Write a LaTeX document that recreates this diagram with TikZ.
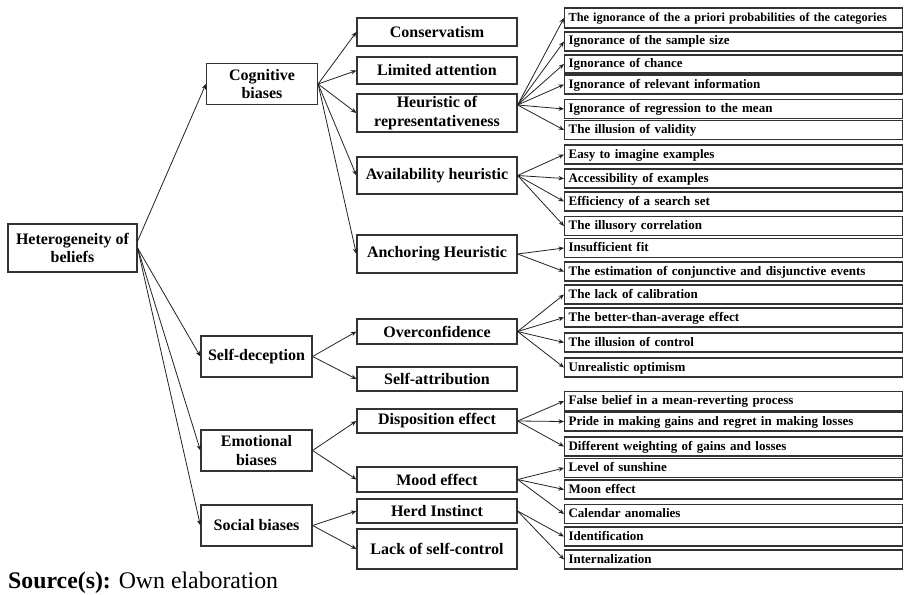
\documentclass[tikz,border=0pt]{standalone}
\usepackage{fontspec}
\setmainfont{Liberation Serif}
\usetikzlibrary{arrows.meta}

\definecolor{boxline}{HTML}{333333}
\definecolor{arrline}{HTML}{222222}

\begin{document}
\begin{tikzpicture}[
  x=1pt, y=-1pt,
  bx/.style={draw=boxline, line width=1.2pt, inner sep=2pt, align=center,
    font=\fontsize{16}{18.5}\selectfont\bfseries},
  top/.style={bx, minimum width=129pt, minimum height=48pt},
  grp/.style={bx, minimum width=111pt, minimum height=41pt},
  sub/.style={bx, minimum width=160pt},
  leaf/.style={draw=boxline, line width=1.2pt, anchor=west, inner xsep=4pt, inner ysep=1pt,
    text width=330pt, align=left, minimum height=19pt, text height=9pt, text depth=2pt,
    font=\fontsize{13}{15}\selectfont\bfseries},
  arr/.style={draw=arrline, line width=0.8pt, -{Stealth[length=5.5pt,width=4.5pt]}}
]
\useasboundingbox (0,0) rectangle (904,594);

% root and first level
\node[top] (root) at (72.5,248) {Heterogeneity of\\beliefs};
\node[grp] (cog) at (262,84) {Cognitive\\biases};
\node[grp] (selfd) at (256.5,356.5) {Self-deception};
\node[grp] (emo) at (256.5,450.5) {Emotional\\biases};
\node[grp] (soc) at (256.5,525.5) {Social biases};

% second level
\node[sub, minimum height=28pt] (cons) at (437,32) {Conservatism};
\node[sub, minimum height=27pt] (lim) at (437,70.5) {Limited attention};
\node[sub, minimum height=38pt] (heur) at (437,113) {Heuristic of\\representativeness};
\node[sub, minimum height=37pt] (avail) at (437,175.5) {Availability heuristic};
\node[sub, minimum height=38pt] (anch) at (437,254) {Anchoring Heuristic};
\node[sub, minimum height=25pt] (over) at (437,331.5) {Overconfidence};
\node[sub, minimum height=24pt] (attr) at (437,379) {Self-attribution};
\node[sub, minimum height=24pt] (disp) at (437,421) {Disposition effect};
\node[sub, minimum height=25pt] (mood) at (437,479.5) {Mood effect};
\node[sub, minimum height=24pt] (herd) at (437,511) {Herd Instinct};
\node[sub, minimum height=40pt] (lack) at (437,549) {Lack of self-control};

% leaves
\node[leaf, minimum height=20pt, font=\fontsize{12.3}{15}\selectfont\bfseries] (l1) at (564,18)
  {The ignorance of the a priori probabilities of the categories};
\node[leaf] (l2) at (564,41.5) {Ignorance of the sample size};
\node[leaf, minimum height=18pt] (l3) at (564,64) {Ignorance of chance};
\node[leaf] (l4) at (564,84.5) {Ignorance of relevant information};
\node[leaf] (l5) at (564,109) {Ignorance of regression to the mean};
\node[leaf] (l6) at (564,130) {The illusion of validity};
\node[leaf] (l7) at (564,154.5) {Easy to imagine examples};
\node[leaf] (l8) at (564,178.5) {Accessibility of examples};
\node[leaf] (l9) at (564,201.5) {Efficiency of a search set};
\node[leaf] (l10) at (564,226) {The illusory correlation};
\node[leaf] (l11) at (564,248) {Insufficient fit};
\node[leaf] (l12) at (564,271.5) {The estimation of conjunctive and disjunctive events};
\node[leaf] (l13) at (564,294.5) {The lack of calibration};
\node[leaf] (l14) at (564,317.5) {The better-than-average effect};
\node[leaf] (l15) at (564,342.5) {The illusion of control};
\node[leaf] (l16) at (564,367.5) {Unrealistic optimism};
\node[leaf] (l17) at (564,401) {False belief in a mean-reverting process};
\node[leaf] (l18) at (564,421.5) {Pride in making gains and regret in making losses};
\node[leaf] (l19) at (564,446.5) {Different weighting of gains and losses};
\node[leaf] (l20) at (564,468) {Level of sunshine};
\node[leaf] (l21) at (564,489.5) {Moon effect};
\node[leaf] (l22) at (564,514) {Calendar anomalies};
\node[leaf] (l23) at (564,536.5) {Identification};
\node[leaf] (l24) at (564,559.5) {Internalization};

% connectors
\draw[arr] ([yshift=7pt]root.east) -- (cog.west);
\foreach \c in {selfd,emo,soc} \draw[arr] (root.east) -- (\c.west);
\foreach \c in {cons,lim,heur,avail,anch} \draw[arr] (cog.east) -- (\c.west);
\foreach \c in {over,attr} \draw[arr] (selfd.east) -- (\c.west);
\foreach \c in {disp,mood} \draw[arr] (emo.east) -- (\c.west);
\foreach \c in {herd,lack} \draw[arr] (soc.east) -- (\c.west);
\foreach \c in {l1,l2,l3,l4,l5,l6} \draw[arr] ([yshift=8pt]heur.east) -- (\c.west);
\foreach \c in {l7,l8,l9,l10} \draw[arr] (avail.east) -- (\c.west);
\foreach \c in {l11,l12} \draw[arr] (anch.east) -- (\c.west);
\foreach \c in {l13,l14,l15,l16} \draw[arr] (over.east) -- (\c.west);
\foreach \c in {l17,l18,l19} \draw[arr] (disp.east) -- (\c.west);
\foreach \c in {l20,l21,l22} \draw[arr] (mood.east) -- (\c.west);
\foreach \c in {l23,l24} \draw[arr] (herd.east) -- (\c.west);

% caption
\node[anchor=base west, inner sep=0pt, font=\fontsize{23.8}{28}\selectfont] (src) at (8,588)
  {\textbf{Source(s):} Own elaboration};
\end{tikzpicture}
\end{document}
